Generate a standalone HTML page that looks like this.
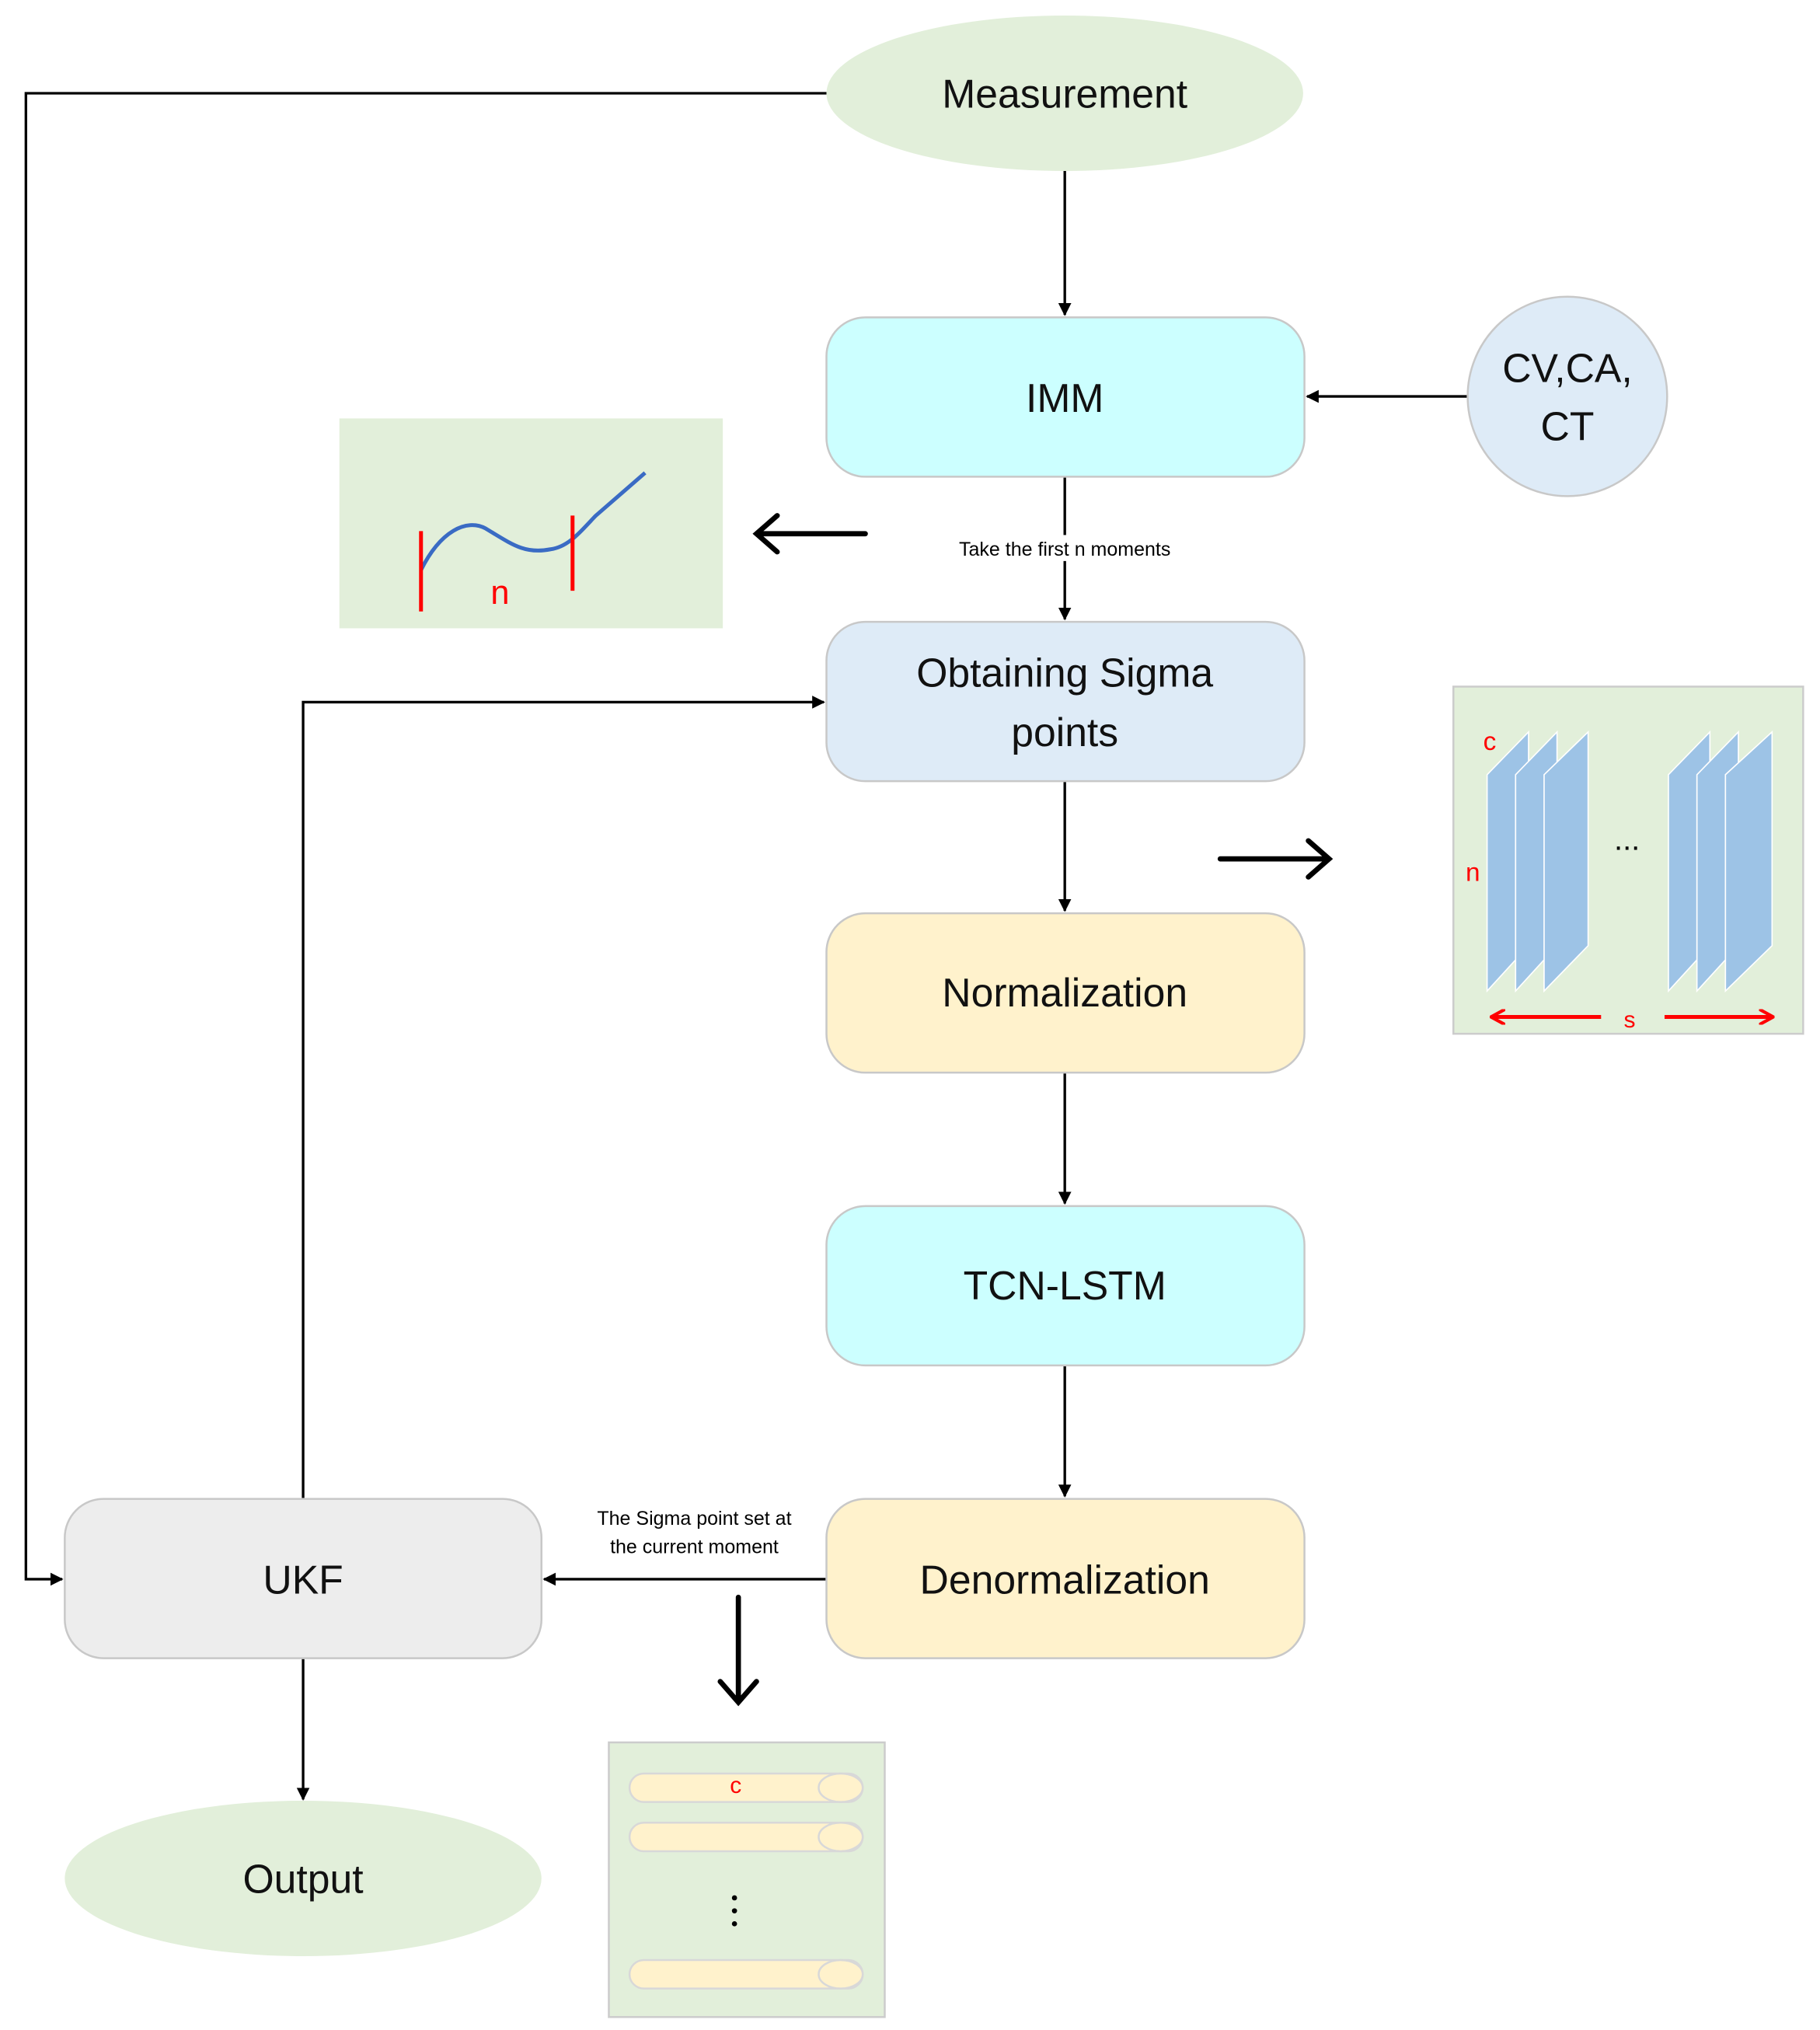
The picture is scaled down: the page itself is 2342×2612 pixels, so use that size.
<!DOCTYPE html>
<html><head><meta charset="utf-8"><style>html,body{margin:0;padding:0;background:#fff}svg{display:block}</style></head>
<body>
<svg width="2342" height="2612" viewBox="0 0 1405 1567" preserveAspectRatio="none" xmlns="http://www.w3.org/2000/svg" font-family="'Liberation Sans', sans-serif">
<defs>
<marker id="a" markerWidth="10" markerHeight="10" refX="9" refY="5" orient="auto" markerUnits="userSpaceOnUse"><path d="M0,0 L10,5 L0,10 z" fill="#000"/></marker>
<marker id="r" markerWidth="12" markerHeight="12" refX="10" refY="6" orient="auto" markerUnits="userSpaceOnUse"><path d="M0,0 L11,6 L0,12" fill="none" stroke="#f00" stroke-width="2.5"/></marker>
</defs>
<!-- connectors -->
<g stroke="#000" stroke-width="2" fill="none">
<path d="M638,72 H20 V1219 H48" marker-end="url(#a)"/>
<path d="M822,132 V243" marker-end="url(#a)"/>
<path d="M1133,306 H1009" marker-end="url(#a)"/>
<path d="M822,368 V415 M822,433 V478" marker-end="url(#a)"/>
<path d="M822,603 V703" marker-end="url(#a)"/>
<path d="M822,828 V929" marker-end="url(#a)"/>
<path d="M822,1054 V1155" marker-end="url(#a)"/>
<path d="M638,1219 H420" marker-end="url(#a)"/>
<path d="M234,1157 V542 H636" marker-end="url(#a)"/>
<path d="M234,1280 V1389" marker-end="url(#a)"/>
</g>
<!-- thick arrows -->
<g stroke="#000" stroke-width="4" fill="none" stroke-linecap="round">
<path d="M668,412 H586 M600,398 L584,412 L600,426"/>
<path d="M942,663 H1024 M1010,649 L1026,663 L1010,677"/>
<path d="M570,1233 V1312 M556,1298 L570,1314 L584,1298"/>
</g>
<!-- nodes -->
<ellipse cx="822" cy="72" rx="184" ry="60" fill="#E2EFDA"/>
<text x="822" y="83" font-size="31" text-anchor="middle" fill="#111">Measurement</text>
<g stroke="#c8c8c8" stroke-width="1.5">
<rect x="638" y="245" width="369" height="123" rx="30" fill="#CCFFFF"/>
<rect x="638" y="480" width="369" height="123" rx="30" fill="#DEEBF7"/>
<rect x="638" y="705" width="369" height="123" rx="30" fill="#FFF2CC"/>
<rect x="638" y="931" width="369" height="123" rx="30" fill="#CCFFFF"/>
<rect x="638" y="1157" width="369" height="123" rx="30" fill="#FFF2CC"/>
<rect x="50" y="1157" width="368" height="123" rx="30" fill="#EDEDED"/>
<circle cx="1210" cy="306" r="77" fill="#DEEBF7"/>
</g>
<g font-size="31" text-anchor="middle" fill="#111">
<text x="822" y="318">IMM</text>
<text x="822" y="530">Obtaining Sigma</text>
<text x="822" y="576">points</text>
<text x="822" y="777">Normalization</text>
<text x="822" y="1003">TCN-LSTM</text>
<text x="822" y="1230">Denormalization</text>
<text x="234" y="1230">UKF</text>
<text x="1210" y="295">CV,CA,</text>
<text x="1210" y="340">CT</text>
</g>
<ellipse cx="234" cy="1450" rx="184" ry="60" fill="#E2EFDA"/>
<text x="234" y="1461" font-size="31" text-anchor="middle" fill="#111">Output</text>
<!-- labels -->
<rect x="722" y="413" width="200" height="20" fill="#fff"/>
<text x="822" y="429" font-size="15" text-anchor="middle" fill="#000">Take the first n moments</text>
<text x="536" y="1177" font-size="15" text-anchor="middle" fill="#000">The Sigma point set at</text>
<text x="536" y="1199" font-size="15" text-anchor="middle" fill="#000">the current moment</text>
<!-- graph panel -->
<rect x="262" y="323" width="296" height="162" fill="#E2EFDA"/>
<path d="M325,440 C340,410 360,400 375,408 C395,420 405,428 425,424 C440,422 450,408 460,398 L498,365" fill="none" stroke="#3A6BC4" stroke-width="3"/>
<path d="M325,410 V472 M442,398 V456" stroke="#f00" stroke-width="3"/>
<text x="386" y="466" font-size="26" fill="#f00" text-anchor="middle">n</text>
<!-- sigma panel -->
<rect x="1122" y="530" width="270" height="268" fill="#E2EFDA" stroke="#ccc" stroke-width="1.5"/>
<g fill="#9DC3E6" stroke="#fff" stroke-width="1">
<polygon points="1148,598 1180,565 1180,730 1148,765"/>
<polygon points="1170,598 1202,565 1202,730 1170,765"/>
<polygon points="1192,598 1226,565 1226,730 1192,765"/>
<polygon points="1288,598 1320,565 1320,730 1288,765"/>
<polygon points="1310,598 1342,565 1342,730 1310,765"/>
<polygon points="1332,598 1368,565 1368,730 1332,765"/>
</g>
<text x="1150" y="579" font-size="20" fill="#f00" text-anchor="middle">c</text>
<text x="1137" y="680" font-size="20" fill="#f00" text-anchor="middle">n</text>
<text x="1256" y="656" font-size="24" fill="#000" text-anchor="middle">...</text>
<path d="M1236,785 H1152" stroke="#f00" stroke-width="3" marker-end="url(#r)"/>
<path d="M1285,785 H1368" stroke="#f00" stroke-width="3" marker-end="url(#r)"/>
<text x="1258" y="793" font-size="18" fill="#f00" text-anchor="middle">s</text>
<!-- bottom panel -->
<rect x="470" y="1345" width="213" height="212" fill="#E2EFDA" stroke="#ccc" stroke-width="1.5"/>
<g fill="#FFF2CC" stroke="#d8d8d8" stroke-width="1.5">
<rect x="486" y="1369" width="180" height="22" rx="11"/>
<ellipse cx="649" cy="1380" rx="17" ry="11"/>
<rect x="486" y="1407" width="180" height="22" rx="11"/>
<ellipse cx="649" cy="1418" rx="17" ry="11"/>
<rect x="486" y="1513" width="180" height="22" rx="11"/>
<ellipse cx="649" cy="1524" rx="17" ry="11"/>
</g>
<text x="568" y="1384" font-size="18" fill="#f00" text-anchor="middle">c</text>
<g fill="#000"><circle cx="567" cy="1465" r="2"/><circle cx="567" cy="1475" r="2"/><circle cx="567" cy="1485" r="2"/></g>
</svg>
</body></html>
